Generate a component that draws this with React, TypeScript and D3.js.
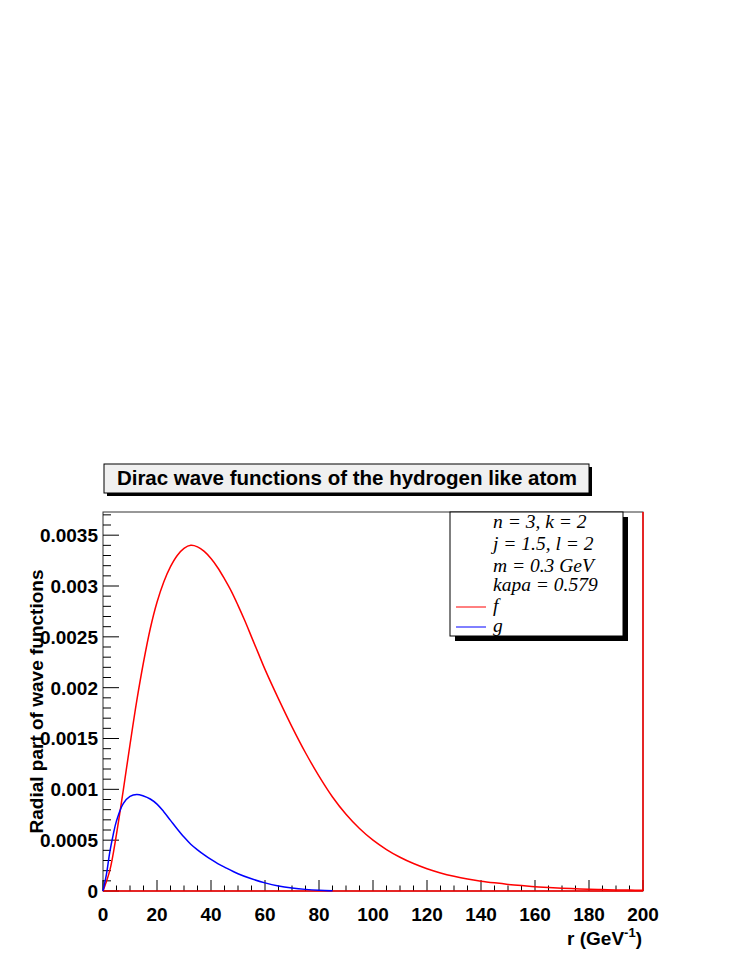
import React from 'react';
import * as d3 from 'd3';

// f(r), red
const fR = [0, 2.5, 5, 7.5, 10, 12.5, 15, 17.5, 20, 22.5, 25, 27.5, 30, 32.5, 35, 37.5, 40, 42.5, 45, 47.5, 50, 52.5, 55, 57.5, 60, 65, 70, 75, 80, 85, 90, 95, 100, 105, 110, 115, 120, 125, 130, 135, 140, 145, 150, 155, 160, 165, 170, 175, 180, 185, 190, 195, 200];
const fVal = [0, 0.20, 0.56, 0.99, 1.44, 1.87, 2.25, 2.58, 2.84, 3.04, 3.19, 3.30, 3.37, 3.40, 3.385, 3.34, 3.27, 3.18, 3.07, 2.95, 2.81, 2.66, 2.50, 2.34, 2.18, 1.89, 1.615, 1.36, 1.13, 0.925, 0.755, 0.615, 0.50, 0.408, 0.332, 0.27, 0.219, 0.178, 0.145, 0.118, 0.097, 0.08, 0.065, 0.053, 0.043, 0.034, 0.027, 0.022, 0.017, 0.014, 0.011, 0.009, 0.007];

// g(r), blue
const gR = [0, 1.25, 2.5, 3.75, 5, 7.5, 10, 12.5, 15, 17.5, 20, 22.5, 25, 27.5, 30, 32.5, 35, 37.5, 40, 42.5, 45, 50, 55, 60, 65, 70, 75, 80, 85];
const gVal = [0, 0.16, 0.38, 0.55, 0.69, 0.86, 0.93, 0.95, 0.935, 0.905, 0.855, 0.78, 0.695, 0.61, 0.53, 0.46, 0.405, 0.355, 0.31, 0.27, 0.235, 0.17, 0.12, 0.08, 0.05, 0.03, 0.016, 0.007, 0.002];

const xTickLabels = ['0', '20', '40', '60', '80', '100', '120', '140', '160', '180', '200'];
const yTickLabels = ['0', '0.0005', '0.001', '0.0015', '0.002', '0.0025', '0.003', '0.0035'];
const legendLines = ['n = 3, k = 2', 'j = 1.5, l = 2', 'm = 0.3 GeV', 'kapa = 0.579'];
const legendSeries = ['f', 'g'];
const seriesColors = ['#ff0000', '#0000ff'];

const W = 747;
const H = 967;
const frame = { left: 103, right: 643, top: 512, bottom: 891 };
const yMax = 0.003728;

export default function App() {
  const x = d3.scaleLinear().domain([0, 200]).range([frame.left, frame.right]);
  const y = d3.scaleLinear().domain([0, yMax]).range([frame.bottom, frame.top]);

  const line = d3.line<[number, number]>()
    .x(d => x(d[0]))
    .y(d => y(d[1] * 1e-3))
    .curve(d3.curveCatmullRom.alpha(0.5));

  const fPts = fR.map((r, i) => [r, fVal[i]] as [number, number]);
  const gPts = gR.map((r, i) => [r, gVal[i]] as [number, number]);

  const xMinor = d3.range(0, 201, 5);
  const yMinor = d3.range(0, 38).map(i => i * 0.0001).filter(v => v <= yMax);

  const sans = 'Liberation Sans, Arial, Helvetica, sans-serif';
  const serif = 'Liberation Serif, Times New Roman, serif';

  const legend = { x: 450, y: 512, w: 173, h: 124 };

  return (
    <svg width={W} height={H} style={{ position: 'absolute', left: 0, top: 0, background: '#fff' }}>
      <rect x={0} y={0} width={W} height={H} fill="#fff" />

      {/* title box */}
      <rect x={107} y={467} width={485} height={29} fill="#000" />
      <rect x={104} y={464} width={485} height={29} fill="#f0f0f0" stroke="#000" strokeWidth={1} />
      <text x={347} y={485} textAnchor="middle" fontFamily={sans} fontWeight="bold" fontSize={20.5}>
        Dirac wave functions of the hydrogen like atom
      </text>

      {/* frame */}
      <rect x={frame.left} y={frame.top} width={frame.right - frame.left} height={frame.bottom - frame.top}
        fill="none" stroke="#333" strokeWidth={1} />

      {/* x ticks */}
      {xMinor.map(v => (
        <line key={'xt' + v} x1={x(v)} x2={x(v)} y1={frame.bottom}
          y2={frame.bottom - (v % 20 === 0 ? 11 : 5.5)} stroke="#000" strokeWidth={1} />
      ))}
      {xTickLabels.map((t, i) => (
        <text key={'xl' + t} x={x(i * 20)} y={921} textAnchor="middle" fontFamily={sans}
          fontWeight="bold" fontSize={19}>{t}</text>
      ))}

      {/* y ticks */}
      {yMinor.map((v, i) => (
        <line key={'yt' + i} x1={frame.left} x2={frame.left + (i % 5 === 0 ? 16 : 8)} y1={y(v)} y2={y(v)}
          stroke="#000" strokeWidth={1} />
      ))}
      {yTickLabels.map((t, i) => (
        <text key={'yl' + t} x={98} y={y(i * 0.0005)} dy="0.36em" textAnchor="end" fontFamily={sans}
          fontWeight="bold" fontSize={19}>{t}</text>
      ))}

      {/* axis titles */}
      <text x={642} y={945} textAnchor="end" fontFamily={sans} fontWeight="bold" fontSize={19}>
        r (GeV<tspan fontSize={13} dy={-8}>-1</tspan><tspan dy={8}>)</tspan>
      </text>
      <text transform={`translate(43,${(frame.top + frame.bottom) / 2}) rotate(-90)`} textAnchor="middle"
        fontFamily={sans} fontWeight="bold" fontSize={19}>
        Radial part of wave functions
      </text>

      {/* curves */}
      <line x1={x(0)} x2={x(200)} y1={y(0)} y2={y(0)} stroke={seriesColors[0]} strokeWidth={1.5} />
      <line x1={x(200)} x2={x(200)} y1={y(0)} y2={frame.top} stroke={seriesColors[0]} strokeWidth={1.5} />
      <path d={line(fPts) || ''} fill="none" stroke={seriesColors[0]} strokeWidth={1.5} />
      <path d={line(gPts) || ''} fill="none" stroke={seriesColors[1]} strokeWidth={1.5} />

      {/* legend */}
      <rect x={legend.x + 5} y={legend.y + 5} width={legend.w} height={legend.h} fill="#000" />
      <rect x={legend.x} y={legend.y} width={legend.w} height={legend.h} fill="#fff" stroke="#000" strokeWidth={1} />
      {legendLines.map((t, i) => (
        <text key={t} x={493} y={[528, 550, 572, 591][i]} fontFamily={serif} fontStyle="italic" fontSize={19.5}>{t}</text>
      ))}
      {legendSeries.map((t, i) => (
        <g key={t}>
          <line x1={456} x2={486} y1={607 + i * 20} y2={607 + i * 20} stroke={seriesColors[i]} strokeWidth={1} />
          <text x={493} y={612 + i * 20} fontFamily={serif} fontStyle="italic" fontSize={19.5}>{t}</text>
        </g>
      ))}
    </svg>
  );
}
